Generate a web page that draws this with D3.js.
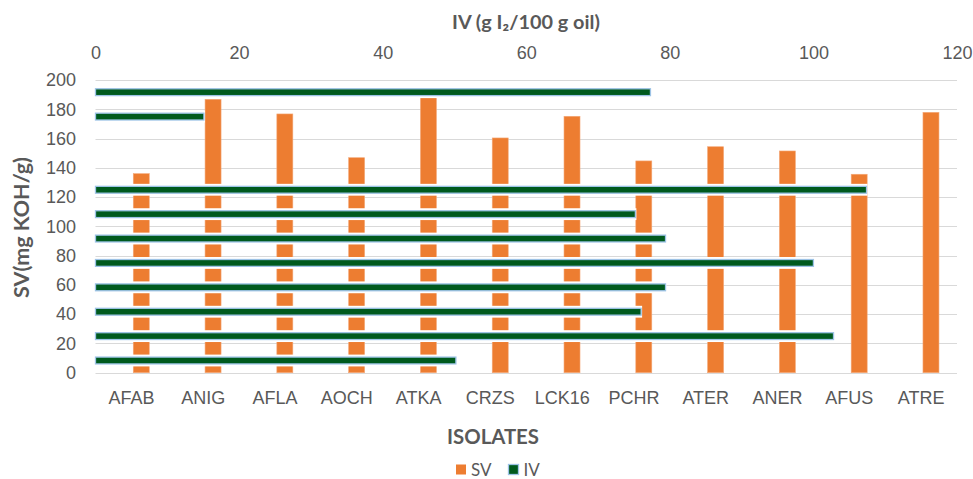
<!DOCTYPE html>
<html>
<head>
<meta charset="utf-8">
<script src="https://cdn.jsdelivr.net/npm/d3@7"></script>
<style>
  html, body { margin: 0; padding: 0; background: #fff; }
  svg { display: block; font-family: Lato, "Open Sans", sans-serif; }
</style>
</head>
<body>
<svg id="chart" width="973" height="479"></svg>
<script>
// Isolates and their saponification (SV) and iodine (IV) values
const isolates = ["AFAB", "ANIG", "AFLA", "AOCH", "ATKA", "CRZS", "LCK16", "PCHR", "ATER", "ANER", "AFUS", "ATRE"];
const svValues = [136.0, 186.8, 176.8, 146.9, 188.4, 160.4, 175.2, 144.7, 154.4, 151.5, 135.6, 177.9];
const ivValues = [50.2, 102.8, 76.0, 79.4, 100.0, 79.4, 75.2, 107.4, null, null, 15.1, 77.3];
const svTicks = [0, 20, 40, 60, 80, 100, 120, 140, 160, 180, 200];
const ivTicks = [0, 20, 40, 60, 80, 100, 120];

const svg = d3.select("#chart");
const plotLeft = 95.5, plotRight = 957, plotTop = 80, plotBottom = 372.7;
const textColor = "#595959";
const orange = "#ed7d31";
const green = "#005a1e";
const blueEdge = "#9dc3e6";

// Category positions; each column sits in the right-hand slot of its category
const x = d3.scaleBand().domain(isolates).range([plotLeft, plotRight]);
const slot = d3.scaleBand().domain(["a", "b"]).range([0, x.bandwidth()])
  .paddingInner(0).paddingOuter(1.2447).align(0.547);
const y = d3.scaleLinear().domain([0, 200]).range([plotBottom, plotTop]);

// Secondary: horizontal IV bars, first category at the bottom
const yCat = d3.scaleBand().domain(isolates).range([plotBottom, plotTop])
  .paddingInner(0.72).paddingOuter(0.36);
const xIV = d3.scaleLinear().domain([0, 120]).range([plotLeft, plotRight]);

// Fit a text element's font size to a target width
function fitWidth(sel, width) {
  const node = sel.node();
  const size = parseFloat(sel.attr("font-size"));
  const w = node.getComputedTextLength();
  if (w > 0) sel.attr("font-size", (size * width / w).toFixed(2));
  return sel;
}

// Gridlines
svg.append("g").selectAll("line")
  .data(svTicks)
  .join("line")
  .attr("x1", plotLeft).attr("x2", plotRight)
  .attr("y1", d => Math.round(y(d)) + 0.5).attr("y2", d => Math.round(y(d)) + 0.5)
  .attr("stroke", "#d9d9d9").attr("stroke-width", 1.2);

// Left axis labels
const yAxis = d3.axisLeft(y).tickValues(svTicks).tickSize(0).tickPadding(0);
svg.append("g")
  .attr("transform", `translate(76,0)`)
  .call(yAxis)
  .call(g => g.select(".domain").remove())
  .call(g => g.selectAll("text")
    .attr("fill", textColor).attr("font-size", 18).attr("font-family", null));

// Top axis labels (IV)
const xTopAxis = d3.axisTop(xIV).tickValues(ivTicks).tickSize(0).tickPadding(0);
svg.append("g")
  .attr("transform", `translate(0,59)`)
  .call(xTopAxis)
  .call(g => g.select(".domain").remove())
  .call(g => g.selectAll("text")
    .attr("fill", textColor).attr("font-size", 18).attr("font-family", null));

// Bottom category labels
const xAxis = d3.axisBottom(x).tickSize(0).tickPadding(0);
svg.append("g")
  .attr("transform", `translate(0,391)`)
  .call(xAxis)
  .call(g => g.select(".domain").remove())
  .call(g => g.selectAll("text")
    .attr("fill", textColor).attr("font-size", 18).attr("font-family", null));

// SV columns
svg.append("g").selectAll("rect")
  .data(isolates.map((c, i) => ({ c, v: svValues[i] })))
  .join("rect")
  .attr("x", d => x(d.c) + slot("b"))
  .attr("width", slot.bandwidth())
  .attr("y", d => y(d.v))
  .attr("height", d => y(0) - y(d.v))
  .attr("fill", orange)
  .attr("stroke", "#f4a878").attr("stroke-width", 0.6);

// IV bars: white halo, then green bar with light blue edge
const ivData = isolates.map((c, i) => ({ c, v: ivValues[i] })).filter(d => d.v != null);
const ivG = svg.append("g");
ivG.selectAll("rect.halo")
  .data(ivData)
  .join("rect")
  .attr("class", "halo")
  .attr("x", xIV(0) - 0.5)
  .attr("width", d => xIV(d.v) - xIV(0) + 1.5)
  .attr("y", d => yCat(d.c) - 2.5)
  .attr("height", yCat.bandwidth() + 5)
  .attr("fill", "#fff");
ivG.selectAll("rect.bar")
  .data(ivData)
  .join("rect")
  .attr("class", "bar")
  .attr("x", xIV(0))
  .attr("width", d => xIV(d.v) - xIV(0))
  .attr("y", d => yCat(d.c))
  .attr("height", yCat.bandwidth())
  .attr("fill", green)
  .attr("stroke", blueEdge).attr("stroke-width", 1.3);

// Axis titles
svg.append("text")
  .attr("x", 526).attr("y", 21)
  .attr("text-anchor", "middle").attr("dominant-baseline", "central")
  .attr("font-size", 18).attr("font-weight", "bold").attr("fill", textColor)
  .text("IV (g I₂/100 g oil)")
  .call(s => fitWidth(s, 148));

svg.append("text")
  .attr("transform", `translate(21,227.5) rotate(-90)`)
  .attr("text-anchor", "middle").attr("dominant-baseline", "central")
  .attr("font-size", 18).attr("font-weight", "bold").attr("fill", textColor)
  .text("SV(mg KOH/g)")
  .call(s => fitWidth(s, 141));

svg.append("text")
  .attr("x", 493).attr("y", 436)
  .attr("text-anchor", "middle").attr("dominant-baseline", "central")
  .attr("font-size", 18).attr("font-weight", "bold").attr("fill", textColor)
  .text("ISOLATES")
  .call(s => fitWidth(s, 92));

// Legend
const legend = svg.append("g");
const legendItems = [
  { name: "SV", x: 456, fill: orange, stroke: "none" },
  { name: "IV", x: 508.5, fill: green, stroke: blueEdge }
];
legendItems.forEach(it => {
  legend.append("rect")
    .attr("x", it.x).attr("y", 464.5)
    .attr("width", 10).attr("height", 10)
    .attr("fill", it.fill)
    .attr("stroke", it.stroke).attr("stroke-width", 1.3);
  legend.append("text")
    .attr("x", it.x + 15).attr("y", 475.5)
    .attr("font-size", 17).attr("fill", textColor)
    .text(it.name);
});
</script>
</body>
</html>
